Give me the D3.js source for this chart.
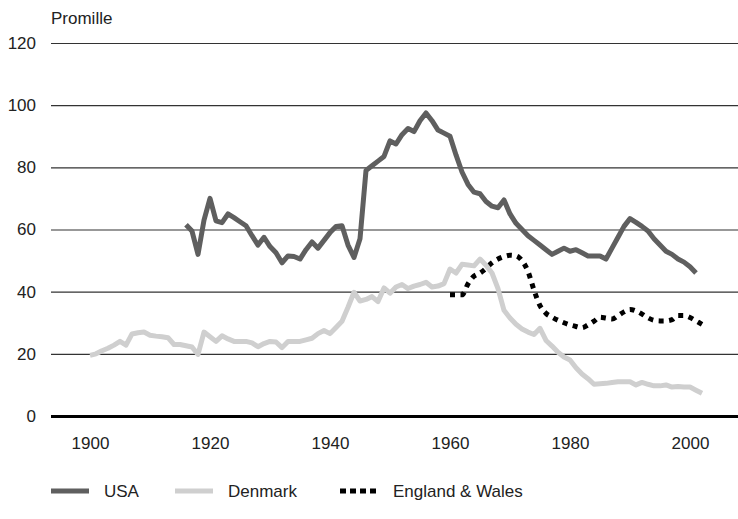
<!DOCTYPE html>
<html>
<head>
<meta charset="utf-8">
<script src="https://cdn.jsdelivr.net/npm/d3@7"></script>
<style>
  body { margin: 0; background: #fff; }
  svg text { font-family: "Liberation Sans", Arial, sans-serif; fill: #222; }
</style>
</head>
<body>
<div id="chart"></div>
<script>
// 年份與數值（從圖上讀出的估計值）
const usaYears = d3.range(1916, 2002);
const usaValues = [
  61.5, 59.5, 52, 63, 70, 62.8, 62.2, 65, 63.8, 62.5,
  61.2, 58, 55, 57.5, 54.5, 52.5, 49.3, 51.5, 51.3, 50.5,
  53.5, 56, 54, 56.5, 59, 61, 61.2, 55, 51, 57,
  79, 80.5, 82, 83.5, 88.5, 87.5, 90.5, 92.5, 91.5, 95,
  97.5, 95, 92, 91, 90, 84, 78.5, 74.5, 72, 71.5,
  69, 67.5, 67, 69.5, 65, 62, 60, 58, 56.5, 55,
  53.5, 52, 53, 54, 53, 53.5, 52.5, 51.5, 51.5, 51.5,
  50.5, 54, 57.5, 61, 63.5, 62.3, 61, 59.5, 57, 55,
  53, 52, 50.5, 49.5, 48, 46
];

const denmarkYears = d3.range(1900, 2003);
const denmarkValues = [
  19.5, 20, 21, 21.8, 22.8, 24, 22.8, 26.4, 26.8, 27,
  26, 25.7, 25.5, 25.2, 23, 23, 22.6, 22.2, 19.8, 27,
  25.5, 24, 25.8, 24.8, 24, 24, 24, 23.5, 22.3, 23.3,
  24, 23.8, 22, 24, 24, 24, 24.5, 25, 26.5, 27.5,
  26.5, 28.5, 30.5, 35, 39.8, 37, 37.5, 38.4, 36.8, 41.2,
  39.5, 41.5, 42.3, 41, 41.8, 42.3, 43, 41.5, 41.8, 42.6,
  47.3, 46, 48.8, 48.6, 48.3, 50.5, 48.5, 46, 41, 34,
  31.5, 29.5, 28, 27, 26.2, 28.2, 24.3, 22.5, 20.5, 19,
  18, 15.5, 13.5, 12, 10.2, 10.4, 10.5, 10.8, 11, 11,
  11, 10, 10.8, 10.2, 9.7, 9.7, 10, 9.3, 9.5, 9.3,
  9.3, 8.3, 7.3
];

const englandYears = d3.range(1960, 2003);
const englandValues = [
  39, 39, 39, 42.5, 45, 46, 47.5, 49.3, 50.5, 51.3,
  51.7, 51.5, 50, 46.5, 40.5, 35.5, 33, 31.8, 30.8, 30,
  29.3, 28.8, 28.4, 29.3, 30.5, 31.8, 31.5, 31.2, 32.3, 33.5,
  34.3, 33.8, 32.8, 31.6, 30.8, 30.6, 30.6, 31, 32.3, 32.3,
  31.7, 30.6, 29.5
];

const yTicks = [0, 20, 40, 60, 80, 100, 120];
const xTicks = [1900, 1920, 1940, 1960, 1980, 2000];
const seriesNames = ["USA", "Denmark", "England & Wales"];

const width = 738, height = 519;
const gridLeft = 51;

const svg = d3.select("#chart").append("svg")
    .attr("width", width)
    .attr("height", height);

const x = d3.scaleLinear().domain([1900, 2000]).range([90, 690]);
const y = d3.scaleLinear().domain([0, 120]).range([416, 43]);

// 格線 + Y 軸標籤
const yAxis = svg.append("g")
    .attr("transform", `translate(${gridLeft},0)`)
    .call(d3.axisLeft(y).tickValues(yTicks).tickSize(-(width - gridLeft)).tickPadding(15));
yAxis.select(".domain").remove();
yAxis.selectAll(".tick line").attr("stroke", "#333").attr("stroke-width", 1.2);
yAxis.selectAll(".tick text").attr("font-size", 17).style("fill", "#222");
yAxis.selectAll(".tick").filter(d => d === 0).select("line")
    .attr("stroke", "#000").attr("stroke-width", 3);

// X 軸標籤
const xAxis = svg.append("g")
    .attr("transform", `translate(0,${y(0)})`)
    .call(d3.axisBottom(x).tickValues(xTicks).tickFormat(d3.format("d")).tickSize(0).tickPadding(21));
xAxis.select(".domain").remove();
xAxis.selectAll(".tick text").attr("font-size", 17).style("fill", "#222");

svg.append("text")
    .attr("x", gridLeft)
    .attr("y", 24)
    .attr("font-size", 17)
    .text("Promille");

const line = d3.line()
    .x(d => x(d[0]))
    .y(d => y(d[1]));

const zip = (xs, vs) => xs.map((yr, i) => [yr, vs[i]]);

svg.append("path")
    .datum(zip(englandYears, englandValues))
    .attr("fill", "none")
    .attr("stroke", "#000")
    .attr("stroke-width", 5)
    .attr("stroke-dasharray", "5,5.5")
    .attr("d", line.curve(d3.curveMonotoneX));

line.curve(d3.curveLinear);

svg.append("path")
    .datum(zip(denmarkYears, denmarkValues))
    .attr("fill", "none")
    .attr("stroke", "#cfcfcf")
    .attr("stroke-width", 5)
    .attr("stroke-linejoin", "round")
    .attr("d", line);

svg.append("path")
    .datum(zip(usaYears, usaValues))
    .attr("fill", "none")
    .attr("stroke", "#5f5f5f")
    .attr("stroke-width", 5)
    .attr("stroke-linejoin", "round")
    .attr("d", line);

// 圖例
const legendItems = [
  { name: seriesNames[0], x0: 51, color: "#5f5f5f", dash: null },
  { name: seriesNames[1], x0: 175, color: "#cfcfcf", dash: null },
  { name: seriesNames[2], x0: 340, color: "#000", dash: "6,4" }
];
const legendY = 491;
const legend = svg.append("g");
legendItems.forEach(item => {
    legend.append("line")
        .attr("x1", item.x0).attr("x2", item.x0 + 38)
        .attr("y1", legendY).attr("y2", legendY)
        .attr("stroke", item.color)
        .attr("stroke-width", 5)
        .attr("stroke-dasharray", item.dash);
    legend.append("text")
        .attr("x", item.x0 + 53)
        .attr("y", legendY)
        .attr("dy", "0.36em")
        .attr("font-size", 17)
        .text(item.name);
});
</script>
</body>
</html>
